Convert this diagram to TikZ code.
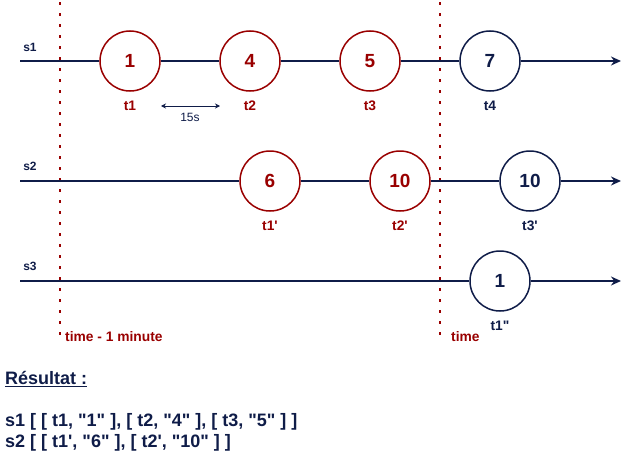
\documentclass[tikz,border=0pt]{standalone}
\usepackage{fontspec}
\setmainfont{Liberation Sans}
\usetikzlibrary{arrows.meta}
\definecolor{navy}{RGB}{15,28,72}
\definecolor{dred}{RGB}{153,0,0}
\tikzset{
  evt/.style={circle,draw,line width=1.5pt,fill=white,minimum size=60pt,inner sep=0pt,font=\bfseries\fontsize{19}{22}\selectfont},
  evtold/.style={evt,draw=dred,text=dred},
  evtnew/.style={evt,draw=navy,text=navy},
  stream/.style={navy,line width=1.5pt},
  tlab/.style={font=\bfseries\fontsize{13.8}{16}\selectfont},
  slab/.style={navy,font=\bfseries\fontsize{12}{14}\selectfont},
  window/.style={dred,line width=2.8pt,dash pattern=on 2.8pt off 8.2pt},
  res/.style={navy,anchor=west,inner sep=0pt,font=\bfseries\fontsize{18}{20}\selectfont}
}
\newcommand{\qd}{\textquotedbl}
\newcommand{\qs}{\textquotesingle}
\begin{document}
\begin{tikzpicture}[x=1pt,y=-1pt,>={Stealth[length=10pt,width=9pt]}]
\useasboundingbox (0,0) rectangle (630,455);
\draw [window] (60,2) -- (60,342);
\draw [window] (440,2) -- (440,342);
\node [slab] (s1) at (30,47) {s1};
\node [slab] (s2) at (30,166) {s2};
\node [slab] (s3) at (30,266) {s3};
\coordinate (s1a) at (20,61);
\coordinate (s1b) at (621,61);
\coordinate (s2a) at (20,181);
\coordinate (s2b) at (621,181);
\coordinate (s3a) at (20,281);
\coordinate (s3b) at (621,281);
\node [evtold] (a1) at (130,61) {1};
\node [evtold] (a2) at (250,61) {4};
\node [evtold] (a3) at (370,61) {5};
\node [evtnew] (a4) at (490,61) {7};
\node [evtold] (b1) at (270,181) {6};
\node [evtold] (b2) at (400,181) {10};
\node [evtnew] (b3) at (530,181) {10};
\node [evtnew] (c1) at (500,281) {1};
\draw [stream] (s1a) -- (a1) -- (a2) -- (a3) -- (a4);
\draw [stream,->] (a4) -- (s1b);
\draw [stream] (s2a) -- (b1) -- (b2) -- (b3);
\draw [stream,->] (b3) -- (s2b);
\draw [stream] (s3a) -- (c1);
\draw [stream,->] (c1) -- (s3b);
\node [tlab,dred] (t1) at (130,106) {t1};
\node [tlab,dred] (t2) at (250,106) {t2};
\node [tlab,dred] (t3) at (370,106) {t3};
\node [tlab,navy] (t4) at (490,106) {t4};
\node [tlab,dred] (u1) at (270,226) {t1\qs};
\node [tlab,dred] (u2) at (400,226) {t2\qs};
\node [tlab,navy] (u3) at (530,226) {t3\qs};
\node [tlab,navy] (v1) at (500,326) {t1\qd};
\coordinate (g1) at (161,106);
\coordinate (g2) at (220,106);
\draw [navy,line width=0.8pt,{Stealth[length=5pt,width=5pt]}-{Stealth[length=5pt,width=5pt]}] (g1) -- (g2);
\node [navy,font=\fontsize{12}{14}\selectfont] (gap) at (190,117) {15s};
\node [tlab,dred,anchor=west,inner sep=0pt] (wstart) at (65,337) {time - 1 minute};
\node [tlab,dred,anchor=west,inner sep=0pt] (wend) at (451,337) {time};
\node [res] (title) at (5,379) {\underline{Résultat :}};
\node [res] (r1) at (5,422) {s1 [ [ t1, \qd1\qd\ ], [ t2, \qd4\qd\ ], [ t3, \qd5\qd\ ] ]};
\node [res] (r2) at (5,443) {s2 [ [ t1\qs, \qd6\qd\ ], [ t2\qs, \qd10\qd\ ] ]};
\end{tikzpicture}
\end{document}
